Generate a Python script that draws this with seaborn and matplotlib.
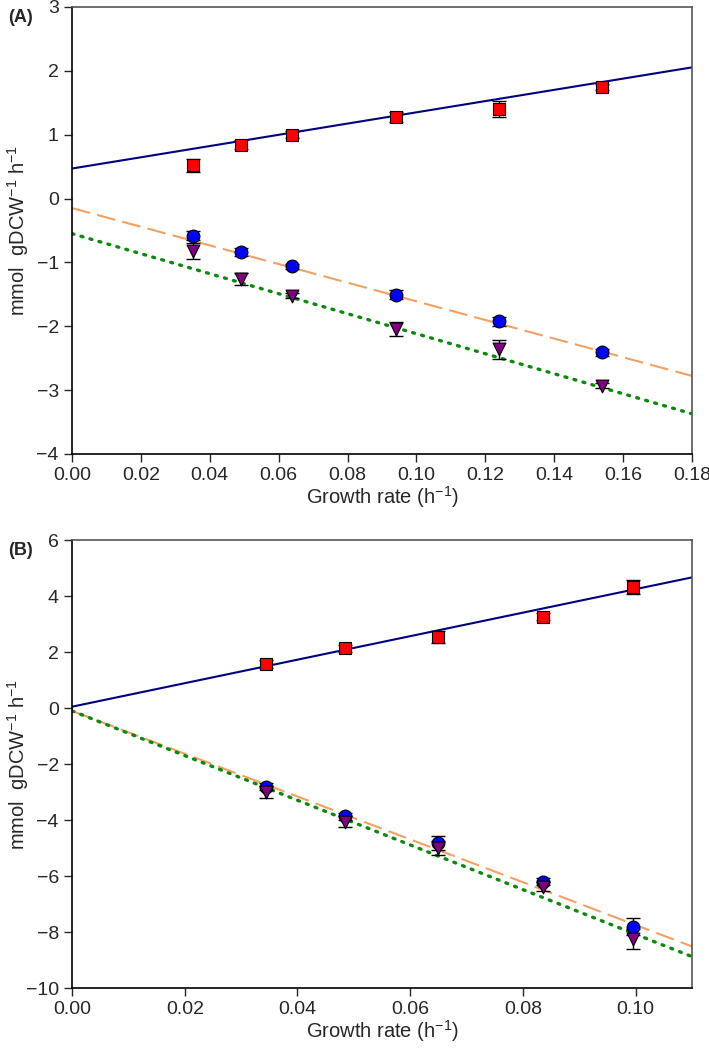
import numpy as np
import pandas as pd
import matplotlib
matplotlib.use("Agg")
import matplotlib.pyplot as plt
import seaborn as sns

# panel A data
xa = [0.035, 0.049, 0.064, 0.094, 0.124, 0.154]
a_sq = [0.52, 0.84, 1.00, 1.28, 1.40, 1.75]
a_sq_err = [0.10, 0.07, 0.05, 0.08, 0.13, 0.05]
a_ci = [-0.58, -0.84, -1.06, -1.51, -1.92, -2.41]
a_ci_err = [0.07, 0.06, 0.04, 0.07, 0.07, 0.05]
a_tri = [-0.82, -1.26, -1.52, -2.04, -2.36, -2.93]
a_tri_err = [0.12, 0.10, 0.04, 0.11, 0.15, 0.04]
# fitted lines (intercept, slope)
a_fit_sq = (0.47, 8.8)
a_fit_ci = (-0.15, -14.6)
a_fit_tri = (-0.55, -15.67)

# panel B data
xb = [0.0345, 0.0485, 0.065, 0.0835, 0.0995]
b_sq = [1.57, 2.13, 2.55, 3.26, 4.33]
b_sq_err = [0.15, 0.12, 0.22, 0.12, 0.25]
b_ci = [-2.81, -3.86, -4.83, -6.20, -7.81]
b_ci_err = [0.12, 0.12, 0.25, 0.12, 0.30]
b_tri = [-2.99, -4.06, -5.01, -6.38, -8.25]
b_tri_err = [0.22, 0.20, 0.25, 0.15, 0.35]
b_fit_sq = (0.05, 42.0)
b_fit_ci = (-0.10, -76.5)
b_fit_tri = (-0.10, -79.8)

sns.set_style("ticks")
plt.rcParams["font.family"] = ["Liberation Sans", "DejaVu Sans"]
plt.rcParams["mathtext.fontset"] = "custom"
plt.rcParams["mathtext.rm"] = "Liberation Sans"

fig = plt.figure(figsize=(7.09, 10.55), dpi=100)
axA = fig.add_axes([0.1016, 0.5697, 0.8744, 0.4237])
axB = fig.add_axes([0.1016, 0.0635, 0.8744, 0.4245])

ylab = r"mmol  gDCW$^{-1}$ h$^{-1}$"
xlab = r"Growth rate (h$^{-1}$)"


def draw(ax, x, sq, sqe, ci, cie, tri, trie, fits, xmax):
    xs = np.array([0.0, xmax])
    styles = [("#000080", "-", None, 1.5),
              ("#F4A062", "--", (9, 3.5), 1.5),
              ("#0A8A0A", ":", (0.6, 2.2), 2.4)]
    for (b0, b1), (col, ls, dash, lw) in zip(fits, styles):
        d = pd.DataFrame({"x": xs, "y": b0 + b1 * xs})
        sns.lineplot(data=d, x="x", y="y", ax=ax, color=col, lw=lw)
        ln = ax.lines[-1]
        if dash is not None:
            ln.set_dashes(dash)
        if ls == ":":
            ln.set_dash_capstyle("round")
    for y, e, m, c in [(sq, sqe, "s", "#FF0000"),
                       (ci, cie, "o", "#0000FF"),
                       (tri, trie, "v", "#800080")]:
        ax.errorbar(x, y, yerr=e, fmt="none", ecolor="black", elinewidth=1,
                    capsize=5, capthick=1, zorder=3)
        d = pd.DataFrame({"x": x, "y": y})
        sns.scatterplot(data=d, x="x", y="y", ax=ax, marker=m, color=c,
                        edgecolor="black", linewidth=0.8, s=85, zorder=4)
    ax.set_xlim(0, xmax)
    ax.set_xlabel(xlab, fontsize=14.5, va="top")
    ax.set_ylabel(ylab, fontsize=14.5)
    ax.tick_params(labelsize=14, direction="out", length=6, width=1,
                   top=False, right=False)
    for s in ["left", "bottom"]:
        ax.spines[s].set_color("black")
        ax.spines[s].set_linewidth(1.2)
    for s in ["top", "right"]:
        ax.spines[s].set_color("#555555")
        ax.spines[s].set_linewidth(1.2)


draw(axA, xa, a_sq, a_sq_err, a_ci, a_ci_err, a_tri, a_tri_err,
     [a_fit_sq, a_fit_ci, a_fit_tri], 0.18)
axA.set_ylim(-4, 3)
axA.set_yticks(np.arange(-4, 4, 1))
axA.set_xticks(np.arange(0, 0.181, 0.02))
axA.xaxis.set_major_formatter(matplotlib.ticker.FormatStrFormatter("%.2f"))

draw(axB, xb, b_sq, b_sq_err, b_ci, b_ci_err, b_tri, b_tri_err,
     [b_fit_sq, b_fit_ci, b_fit_tri], 0.11)
axB.set_ylim(-10, 6)
axB.set_yticks(np.arange(-10, 7, 2))
axB.set_xticks(np.arange(0, 0.101, 0.02))
axB.xaxis.set_major_formatter(matplotlib.ticker.FormatStrFormatter("%.2f"))

for ax in (axA, axB):
    ax.yaxis.set_label_coords(-0.066, 0.5)
    ax.xaxis.set_label_coords(0.5, -0.068)

fig.text(0.012, 0.979, "(A)", fontsize=13, fontweight="bold")
fig.text(0.012, 0.474, "(B)", fontsize=13, fontweight="bold")

fig.savefig("out.png", dpi=100)
